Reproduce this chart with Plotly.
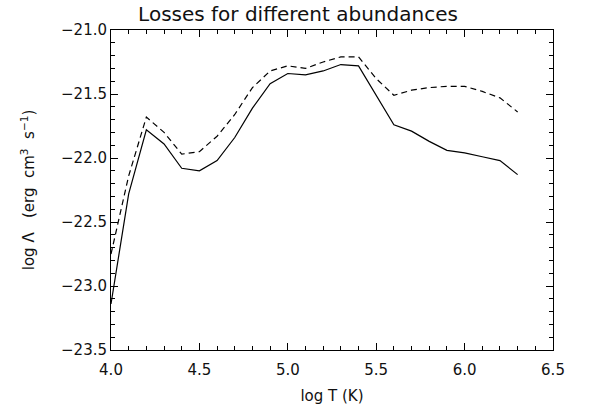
import plotly.graph_objects as go

log_t = [4.0, 4.1, 4.2, 4.3, 4.4, 4.5, 4.6, 4.7, 4.8, 4.9, 5.0, 5.1,
         5.2, 5.3, 5.4, 5.5, 5.6, 5.7, 5.8, 5.9, 6.0, 6.1, 6.2, 6.3]
loss_solid = [-23.14, -22.28, -21.78, -21.89, -22.08, -22.10, -22.02, -21.84,
              -21.61, -21.42, -21.34, -21.35, -21.32, -21.27, -21.28, -21.51,
              -21.74, -21.79, -21.87, -21.94, -21.96, -21.99, -22.02, -22.13]
loss_dashed = [-22.75, -22.14, -21.68, -21.80, -21.97, -21.95, -21.83, -21.66,
               -21.45, -21.32, -21.28, -21.30, -21.25, -21.21, -21.21, -21.38,
               -21.51, -21.47, -21.45, -21.44, -21.44, -21.48, -21.53, -21.64]
x_ticks = [4.0, 4.5, 5.0, 5.5, 6.0, 6.5]
y_ticks = [-23.5, -23.0, -22.5, -22.0, -21.5, -21.0]

fig = go.Figure()
fig.add_trace(go.Scatter(x=log_t, y=loss_solid, mode="lines",
                         line=dict(color="black", width=1.2), showlegend=False))
fig.add_trace(go.Scatter(x=log_t, y=loss_dashed, mode="lines",
                         line=dict(color="black", width=1.2, dash="6px,4px"),
                         showlegend=False))

font = dict(family="DejaVu Sans", size=15, color="#111")
axis_common = dict(showgrid=False, zeroline=False, showline=True, linecolor="black",
                   linewidth=1, mirror="ticks", ticks="inside", ticklen=7,
                   tickcolor="black", tickwidth=1, tickfont=font)

fig.update_layout(
    width=596, height=414,
    margin=dict(l=111, r=43, t=30, b=62),
    paper_bgcolor="white", plot_bgcolor="white",
    font=font,
    title=dict(text="Losses for different abundances", x=0.5, xref="container",
               xanchor="center", y=1 - 14 / 414, yanchor="middle",
               font=dict(family="DejaVu Sans", size=20, color="#111")),
    xaxis=dict(range=[4.0, 6.5], tickvals=x_ticks,
               ticktext=[f"{v:.1f}" for v in x_ticks],
               ticklabelstandoff=6,
               minor=dict(dtick=0.1, tick0=4.0, ticks="inside", ticklen=4,
                          tickcolor="black"),
               title=dict(text="log T (K)", standoff=12, font=font),
               **axis_common),
    yaxis=dict(range=[-23.5, -21.0], tickvals=y_ticks,
               ticktext=[f"\u2212{abs(v):.1f}" for v in y_ticks],
               minor=dict(dtick=0.1, tick0=-23.5, ticks="inside", ticklen=4,
                          tickcolor="black"),
               title=dict(text="log \u039b\u00a0\u00a0\u00a0(erg\u00a0 cm<sup>3</sup>\u00a0 s<sup>\u22121</sup>)",
                          standoff=22, font=font),
               **axis_common),
)

fig.write_html("out.html")
